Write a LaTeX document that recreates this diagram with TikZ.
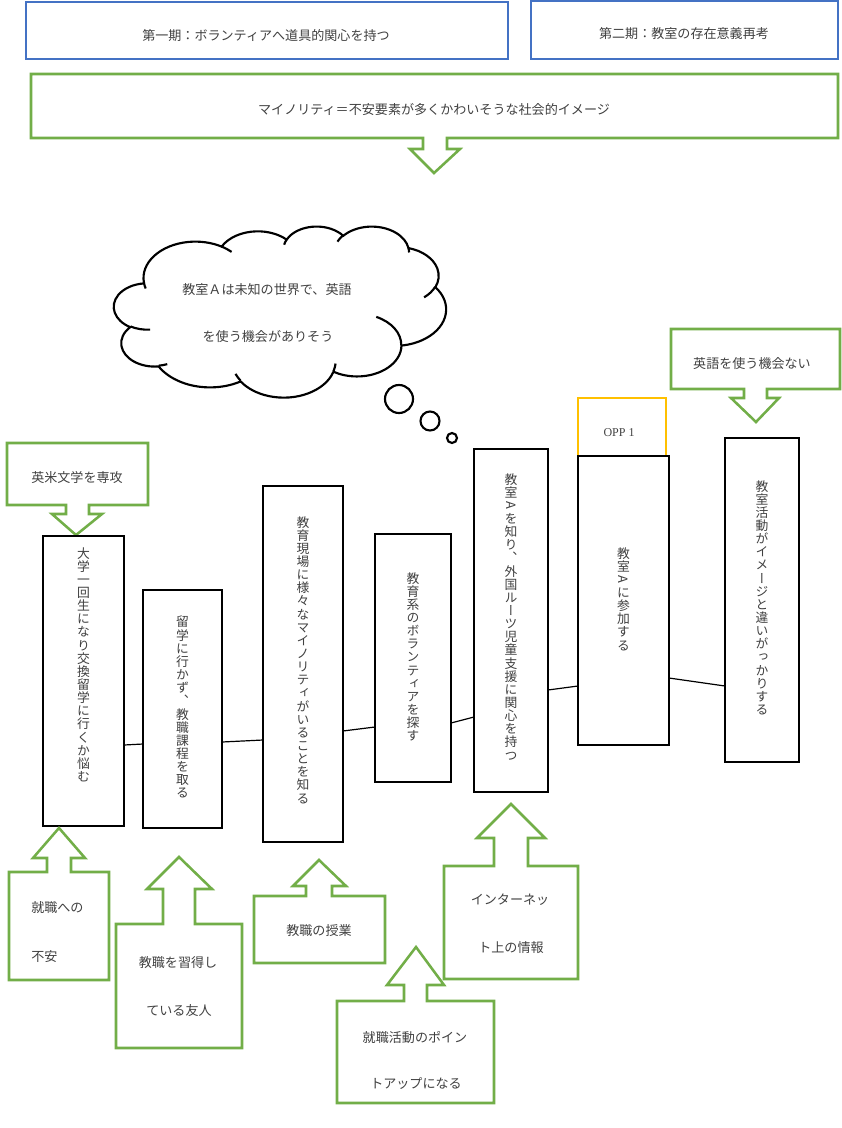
\documentclass[tikz,border=0pt]{standalone}
\usepackage{fontspec}
\usepackage{graphicx}
\newfontfamily\jp{Noto Sans CJK JP}
\newfontfamily\jpv[RawFeature=+vert]{Noto Sans CJK JP}
\newfontfamily\lat{Liberation Serif}
\definecolor{boxgreen}{HTML}{72AE48}
\definecolor{boxblue}{HTML}{4472C4}
\definecolor{boxgold}{HTML}{FFC000}
\definecolor{ink}{HTML}{404040}

\makeatletter
% vertical (tategaki) text: one glyph per line, fixed pitch
\newcommand\vtext[1]{\vbox{\jpv\fontsize{9.6pt}{9.86pt}\selectfont
  \hsize=1.2em\baselineskip=9.86pt\lineskiplimit=-\maxdimen
  \@tfor\vt@c:=#1\do{\hbox to\hsize{\hss\vt@c\hss}}}}
% elliptical arc given by radii and visual start/sweep angles
\newcommand\cloudarc[4]{%
  \pgfextra{%
    \pgfmathsetmacro\ca@s{#3}%
    \pgfmathsetmacro\ca@e{#3+#4}%
    \pgfmathsetmacro\ca@ts{atan2((#1)*sin(\ca@s),(#2)*cos(\ca@s))}%
    \pgfmathsetmacro\ca@te{atan2((#1)*sin(\ca@e),(#2)*cos(\ca@e))}%
    \pgfmathsetmacro\ca@d{\ca@te-\ca@ts}%
    \ifdim #4pt>0pt \ifdim \ca@d pt<0pt \pgfmathsetmacro\ca@d{\ca@d+360}\fi\fi
    \ifdim #4pt<0pt \ifdim \ca@d pt>0pt \pgfmathsetmacro\ca@d{\ca@d-360}\fi\fi
    \xdef\caStart{\ca@ts}\xdef\caDelta{\ca@d}}%
  arc[start angle=\caStart, delta angle=\caDelta, x radius=#1, y radius=#2]}
\makeatother
% Latin letter turned sideways inside vertical text
\newcommand\rA{\rotatebox[origin=c]{-90}{A}}
\newcommand\boxnode[6]{\node[#6, minimum width={(#4-#2)*0.75pt}, minimum height={(#5-#3)*0.75pt}] (#1) at ({(#2+#4)/2},{(#3+#5)/2}) {};}

\begin{document}
\begin{tikzpicture}[x=0.75pt,y=-0.75pt,
  blackbox/.style={draw=black, line width=2pt, fill=white, inner sep=0pt, outer sep=0pt},
  goldbox/.style={draw=boxgold, line width=1.9pt, inner sep=0pt, outer sep=0pt},
  bluebox/.style={draw=boxblue, line width=1.9pt, inner sep=0pt, outer sep=0pt},
  callout/.style={draw=boxgreen, line width=1.9pt, line join=miter},
  label/.style={font=\jp\fontsize{9.8pt}{12pt}\selectfont, text=ink, inner sep=0pt},
  vlabel/.style={text=ink, inner sep=0pt, anchor=north},
  link/.style={draw=black, line width=0.9pt},
  thought/.style={draw=black, line width=1.6pt}]

\useasboundingbox (0,0) rectangle (842,1128);

% phase headers
\boxnode{phase1}{26}{2}{508}{59}{bluebox}
\boxnode{phase2}{531}{1}{838}{59}{bluebox}
\node[label] (phase1t) at (266,36) {第一期：ボランティアへ道具的関心を持つ};
\node[label] (phase2t) at (684,34) {第二期：教室の存在意義再考};

% image of minorities (callout pointing down)
\draw[callout] (31,74) -- (838,74) -- (838,138) -- (447,138) -- (447,149) -- (460,149)
  -- (434,173) -- (410,149) -- (423,149) -- (423,138) -- (31,138) -- cycle;
\node[label] (minority) at (434,110) {マイノリティ＝不安要素が多くかわいそうな社会的イメージ};

% thought cloud
\begin{scope}[shift={(114,226)}, x=5.764pt, y=-2.969pt]
  \draw[thought, fill=white] (3.9,14.37)
    \cloudarc{6.753}{9.190}{-190.48748}{123.78053}
    \cloudarc{5.333}{7.267}{-144.10238}{89.94523}
    \cloudarc{4.365}{5.945}{-145.80792}{99.72302}
    \cloudarc{4.857}{6.595}{-130.98607}{117.24173}
    \cloudarc{5.333}{7.273}{-78.70888}{109.02692}
    \cloudarc{6.775}{9.220}{-46.26725}{130.269}
    \cloudarc{5.785}{7.867}{0.62502}{114.03333}
    \cloudarc{6.752}{9.215}{22.4516}{115.17255}
    \cloudarc{7.720}{10.543}{66.24263}{75.71102}
    \cloudarc{4.360}{5.918}{-274.94208}{146.73557}
    \cloudarc{4.345}{5.945}{-246.8285}{152.51885}
    -- cycle;
  \draw[thought] (4.693,26.177) \cloudarc{4.345}{5.945}{86.742}{26.4295};
  \draw[thought] (6.928,34.899) \cloudarc{4.360}{5.918}{73.61047}{11.44747};
  \draw[thought] (16.478,39.090) \cloudarc{6.752}{9.215}{137.62415}{14.0811};
  \draw[thought] (28.827,34.751) \cloudarc{6.752}{9.215}{6.45327}{15.99835};
  \draw[thought] (34.129,22.954) \cloudarc{5.785}{7.867}{-70.29235}{70.91737};
  \draw[thought] (41.798,15.354) \cloudarc{5.333}{7.273}{30.31803}{27.7515};
  \draw[thought] (38.324,5.426) \cloudarc{4.857}{6.595}{-13.74433}{14.8589};
  \draw[thought] (29.078,3.952) \cloudarc{4.857}{6.595}{-149.18145}{18.19537};
  \draw[thought] (22.141,4.720) \cloudarc{4.365}{5.945}{-163.49427}{17.68635};
  \draw[thought] (14.000,5.192) \cloudarc{6.753}{9.190}{-66.70695}{12.31935};
  \draw[thought] (4.127,15.789) \cloudarc{6.753}{9.190}{157.65435}{11.85817};
\end{scope}
\draw[thought] (399,399) circle (14);
\draw[thought] (430,421) circle (9.5);
\draw[thought] (452,438) circle (5);
\node[label] (thought1) at (267,290) {教室Ａは未知の世界で、英語};
\node[label] (thought2) at (268,337) {を使う機会がありそう};

% top callouts
\draw[callout] (7,443) -- (148,443) -- (148,505) -- (89,505) -- (89,514) -- (102,514)
  -- (76,535) -- (52,514) -- (66,514) -- (66,505) -- (7,505) -- cycle;
\node[label] (major) at (77,478) {英米文学を専攻};
\draw[callout] (671,329) -- (840,329) -- (840,389) -- (767,389) -- (767,398) -- (779,398)
  -- (756,422) -- (731,398) -- (744,398) -- (744,389) -- (671,389) -- cycle;
\node[label] (noeng) at (752,364) {英語を使う機会ない};

% OPP tag
\boxnode{opp}{578}{398}{666}{456}{goldbox}
\node[text=ink, inner sep=0pt, font=\lat\fontsize{9pt}{11pt}\selectfont] (oppt) at (619,433) {OPP 1};

% timeline boxes
\boxnode{b1}{43}{536}{124}{826}{blackbox}
\boxnode{b2}{143}{590}{222}{828}{blackbox}
\boxnode{b3}{263}{486}{343}{842}{blackbox}
\boxnode{b4}{375}{534}{451}{782}{blackbox}
\boxnode{b5}{474}{449}{548}{792}{blackbox}
\boxnode{b6}{578}{456}{669}{745}{blackbox}
\boxnode{b7}{725}{438}{799}{762}{blackbox}

\node[vlabel] (t1) at (83.5,547) {\vtext{大学一回生になり交換留学に行くか悩む}};
\node[vlabel] (t2) at (182.5,616) {\vtext{留学に行かず、教職課程を取る}};
\node[vlabel] (t3) at (303,516) {\vtext{教育現場に様々なマイノリティがいることを知る}};
\node[vlabel] (t4) at (413,572) {\vtext{教育系のボランティアを探す}};
\node[vlabel] (t5) at (511,473) {\vtext{教室{\rA}を知り、外国ルーツ児童支援に関心を持つ}};
\node[vlabel] (t6) at (623.5,547) {\vtext{教室{\rA}に参加する}};
\node[vlabel] (t7) at (762,480) {\vtext{教室活動がイメージと違いがっかりする}};

\draw[link] (b1.east |- 0,745) -- (b2.west |- 0,744);
\draw[link] (b2.east |- 0,742) -- (b3.west |- 0,740);
\draw[link] (b3.east |- 0,731) -- (b4.west |- 0,727);
\draw[link] (b4.east |- 0,723) -- (b5.west |- 0,717);
\draw[link] (b5.east |- 0,690) -- (b6.west |- 0,686);
\draw[link] (b6.east |- 0,678) -- (b7.west |- 0,686);

% bottom callouts (pointing up)
\draw[callout] (9,872) -- (47,872) -- (47,858) -- (33,858) -- (59,828) -- (85,858) -- (71,858)
  -- (71,872) -- (109,872) -- (109,980) -- (9,980) -- cycle;
\node[label, anchor=west] (anx1) at (31,908) {就職への};
\node[label, anchor=west] (anx2) at (31,957) {不安};

\draw[callout] (116,924) -- (163,924) -- (163,889) -- (147,889) -- (179,857) -- (212,889) -- (195,889)
  -- (195,924) -- (242,924) -- (242,1048) -- (116,1048) -- cycle;
\node[label] (friend1) at (178,963) {教職を習得し};
\node[label] (friend2) at (179,1011) {ている友人};

\draw[callout] (254,896) -- (306,896) -- (306,886) -- (293,886) -- (319,860) -- (346,886) -- (332,886)
  -- (332,896) -- (385,896) -- (385,963) -- (254,963) -- cycle;
\node[label] (lesson) at (319,931) {教職の授業};

\draw[callout] (444,866) -- (494,866) -- (494,838) -- (477,838) -- (511,804) -- (545,838) -- (528,838)
  -- (528,866) -- (578,866) -- (578,979) -- (444,979) -- cycle;
\node[label] (web1) at (510,900) {インターネッ};
\node[label] (web2) at (511,948) {ト上の情報};

\draw[callout] (337,1001) -- (404,1001) -- (404,985) -- (387,985) -- (416,947) -- (444,985) -- (427,985)
  -- (427,1001) -- (494,1001) -- (494,1103) -- (337,1103) -- cycle;
\node[label] (job1) at (415,1037) {就職活動のポイン};
\node[label] (job2) at (416,1084) {トアップになる};

\end{tikzpicture}
\end{document}
